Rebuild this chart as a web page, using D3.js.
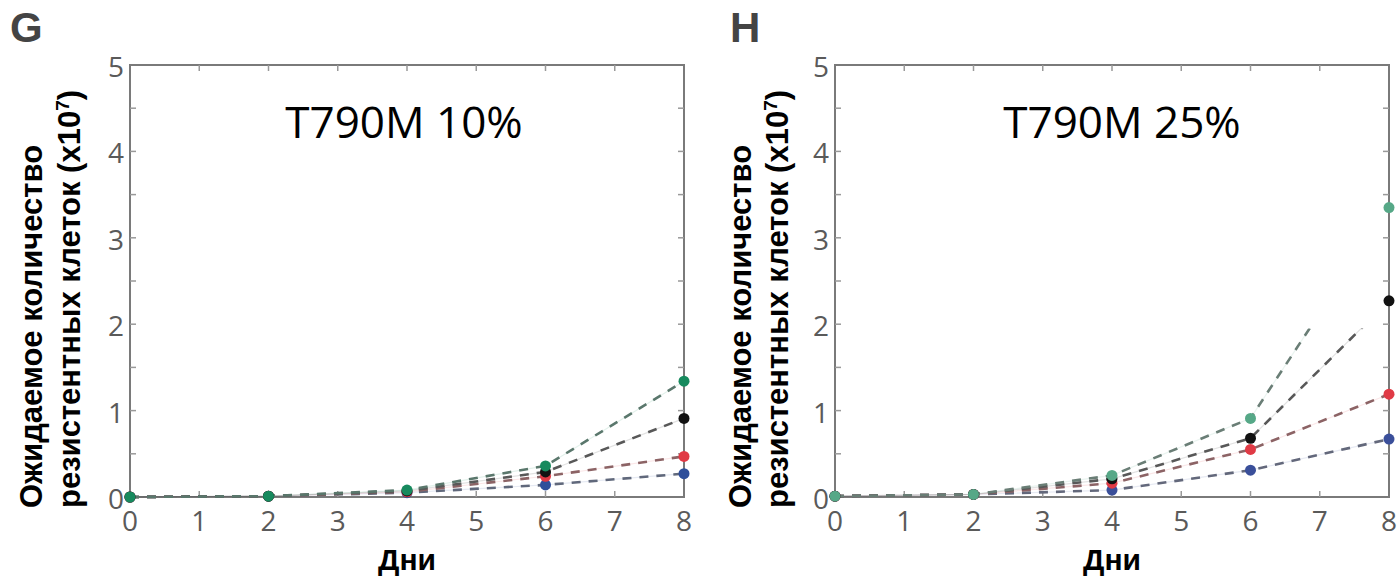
<!DOCTYPE html>
<html>
<head>
<meta charset="utf-8">
<script src="https://cdn.jsdelivr.net/npm/d3@7"></script>
<style>
  body { margin: 0; background: #fff; }
  svg { display: block; }
</style>
</head>
<body>
<div id="chart"></div>
<script>
// days on the x axis
const days = [0, 2, 4, 6, 8];
const xTicks = [0, 1, 2, 3, 4, 5, 6, 7, 8];
const yTicks = [0, 1, 2, 3, 4, 5];

// panel G : T790M 10%
const g_green = [0.00, 0.01, 0.08, 0.36, 1.34];
const g_black = [0.00, 0.01, 0.07, 0.29, 0.91];
const g_red   = [0.00, 0.01, 0.06, 0.24, 0.47];
const g_blue  = [0.00, 0.01, 0.05, 0.14, 0.27];

// panel H : T790M 25%
const h_green = [0.01, 0.03, 0.25, 0.91, 3.35];
const h_black = [0.01, 0.03, 0.21, 0.68, 2.27];
const h_red   = [0.01, 0.03, 0.16, 0.55, 1.19];
const h_blue  = [0.01, 0.03, 0.08, 0.31, 0.67];

const yTitle1 = "Ожидаемое количество";
const yTitle2 = "резистентных клеток (x10";
const xTitle = "Дни";

const W = 1398, H = 578;

const svg = d3.select("#chart")
  .append("svg")
  .attr("width", W)
  .attr("height", H);

function drawPanel(p) {
  const x = d3.scaleLinear().domain([0, 8]).range([p.left, p.left + 554]);
  const y = d3.scaleLinear().domain([0, 5]).range([497, 65]);

  const g = svg.append("g");

  // panel letter
  g.append("text")
    .attr("x", p.letterX)
    .attr("y", 42)
    .attr("font-family", "Liberation Sans, Arial, sans-serif")
    .attr("font-weight", "bold")
    .attr("font-size", 42)
    .attr("fill", "#444")
    .text(p.letter);

  // frame
  g.append("rect")
    .attr("x", x(0)).attr("y", y(5))
    .attr("width", x(8) - x(0)).attr("height", y(0) - y(5))
    .attr("fill", "none")
    .attr("stroke", "#7a7a7a")
    .attr("stroke-width", 2);

  // inward ticks
  const tk = 6;
  d3.range(0.5, 5, 0.5).forEach(v => {
    g.append("line").attr("x1", x(0)).attr("x2", x(0) + tk).attr("y1", y(v)).attr("y2", y(v))
      .attr("stroke", "#999").attr("stroke-width", 1.5);
    g.append("line").attr("x1", x(8)).attr("x2", x(8) - tk).attr("y1", y(v)).attr("y2", y(v))
      .attr("stroke", "#999").attr("stroke-width", 1.5);
  });
  d3.range(1, 8).forEach(v => {
    g.append("line").attr("x1", x(v)).attr("x2", x(v)).attr("y1", y(0)).attr("y2", y(0) - tk)
      .attr("stroke", "#999").attr("stroke-width", 1.5);
    g.append("line").attr("x1", x(v)).attr("x2", x(v)).attr("y1", y(5)).attr("y2", y(5) + tk)
      .attr("stroke", "#999").attr("stroke-width", 1.5);
  });

  // tick labels
  g.selectAll(".yl").data(yTicks).enter().append("text")
    .attr("x", x(0) - 6)
    .attr("y", d => y(d) + 1)
    .attr("dominant-baseline", "central")
    .attr("text-anchor", "end")
    .attr("font-family", "Open Sans, sans-serif")
    .attr("font-size", 28)
    .attr("fill", "#5a5a5a")
    .text(d => d);

  g.selectAll(".xl").data(xTicks).enter().append("text")
    .attr("x", d => x(d))
    .attr("y", 531)
    .attr("text-anchor", "middle")
    .attr("font-family", "Open Sans, sans-serif")
    .attr("font-size", 28)
    .attr("fill", "#5a5a5a")
    .text(d => d);

  // panel title
  g.append("text")
    .attr("x", (x(0) + x(8)) / 2 + p.titleShift)
    .attr("y", 138)
    .attr("text-anchor", "middle")
    .attr("font-family", "Open Sans, sans-serif")
    .attr("font-size", 44)
    .attr("fill", "#000")
    .text(p.title);

  // y title, two lines, reading upward from the bottom
  g.append("text")
    .attr("transform", `translate(${x(0) - p.yt1},508) rotate(-90)`)
    .attr("font-family", "Liberation Sans, Arial, sans-serif")
    .attr("font-weight", "bold")
    .attr("font-size", 31)
    .attr("fill", "#000")
    .text(yTitle1);
  const yt2 = g.append("text")
    .attr("transform", `translate(${x(0) - p.yt2},508) rotate(-90)`)
    .attr("font-family", "Liberation Sans, Arial, sans-serif")
    .attr("font-weight", "bold")
    .attr("font-size", 31)
    .attr("fill", "#000");
  yt2.append("tspan").text(yTitle2);
  yt2.append("tspan").attr("dy", -11).attr("font-size", 19).text("7");
  yt2.append("tspan").attr("dy", 11).text(")");

  // x title
  g.append("text")
    .attr("x", (x(0) + x(8)) / 2)
    .attr("y", 570)
    .attr("text-anchor", "middle")
    .attr("font-family", "Liberation Sans, Arial, sans-serif")
    .attr("font-weight", "bold")
    .attr("font-size", 30)
    .attr("fill", "#000")
    .text(xTitle);

  // clip for dashed lines
  const clipId = "clip" + p.letter;
  const cp = svg.append("clipPath").attr("id", clipId);
  cp.append("rect")
    .attr("x", x(0) - 10).attr("y", y(5))
    .attr("width", x(p.cutX) - x(0) + 10).attr("height", y(0) - y(5) + 10);
  cp.append("rect")
    .attr("x", x(p.cutX)).attr("y", y(p.cutY))
    .attr("width", x(8) - x(p.cutX) + 10).attr("height", y(0) - y(p.cutY) + 10);

  const line = d3.line().x((d, i) => x(days[i])).y(d => y(d));

  const lines = g.append("g").attr("clip-path", `url(#${clipId})`);
  p.series.forEach(s => {
    lines.append("path")
      .attr("d", line(s.values))
      .attr("fill", "none")
      .attr("stroke", s.color)
      .attr("stroke-opacity", 0.12)
      .attr("stroke-width", 1.2);
    lines.append("path")
      .attr("d", line(s.values))
      .attr("fill", "none")
      .attr("stroke", d3.interpolateRgb(s.color, "#707070")(0.75))
      .attr("stroke-width", 2.6)
      .attr("stroke-dasharray", "9,8");
  });

  p.series.forEach(s => {
    g.selectAll(null).data(s.values).enter().append("circle")
      .attr("cx", (d, i) => x(days[i]))
      .attr("cy", d => y(d))
      .attr("r", 5.5)
      .attr("fill", s.color);
  });
}

drawPanel({
  letter: "G", letterX: 10, left: 130, title: "T790M 10%", titleShift: -3,
  yt1: 88, yt2: 50, cutX: 8, cutY: 5,
  series: [
    {color: "#2f4f9a", values: g_blue},
    {color: "#e03a45", values: g_red},
    {color: "#111111", values: g_black},
    {color: "#178a5e", values: g_green}
  ]
});

drawPanel({
  letter: "H", letterX: 730, left: 835, title: "T790M 25%", titleShift: 10,
  yt1: 84, yt2: 47, cutX: 6.3, cutY: 1.95,
  series: [
    {color: "#3a4f9a", values: h_blue},
    {color: "#e03a45", values: h_red},
    {color: "#111111", values: h_black},
    {color: "#56a887", values: h_green}
  ]
});
</script>
</body>
</html>
